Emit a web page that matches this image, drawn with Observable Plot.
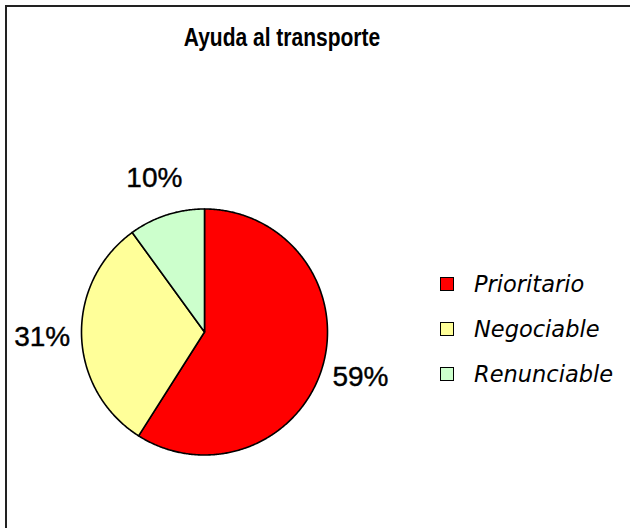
<!DOCTYPE html>
<html>
<head>
<meta charset="utf-8">
<script src="https://cdn.jsdelivr.net/npm/d3@7"></script>
<script src="https://cdn.jsdelivr.net/npm/@observablehq/plot@0.6"></script>
<style>
  html, body { margin: 0; padding: 0; background: #fff; overflow: hidden; }
  #wrap { position: relative; width: 630px; height: 528px; overflow: hidden; background: #fff; }
  #frame { position: absolute; left: 5px; top: 5px; width: 700px; height: 700px; border: 2px solid #222; box-sizing: border-box; }
  #chart { position: absolute; left: 0; top: 0; }
  #title { position: absolute; left: 0; width: 564px; top: 24px; text-align: center; font: bold 25px "Liberation Sans", sans-serif; line-height: 26px; color: #000; transform: scaleX(0.84); transform-origin: 282px 0; }
  #legend { position: absolute; left: 440px; top: 271px; }
  .item { position: relative; height: 45px; }
  .sw { position: absolute; left: 0; top: 6px; width: 14px; height: 14px; border: 1.5px solid #000; box-sizing: border-box; }
  .lab { position: absolute; left: 34px; top: 0; font: italic 22.5px "DejaVu Sans", sans-serif; line-height: 26px; color: #000; white-space: nowrap; }
</style>
</head>
<body>
<div id="wrap">
  <div id="frame"></div>
  <div id="chart"></div>
  <div id="title"></div>
  <div id="legend"></div>
</div>
<script>
const title = "Ayuda al transporte";
const categories = ["Prioritario", "Negociable", "Renunciable"];
const values = [59, 31, 10];
const labels = ["59%", "31%", "10%"];
const colors = ["#FF0000", "#FFFF99", "#CCFFCC"];

// Build slice outlines (unit circle) from the values, clockwise from 12 o'clock
const total = d3.sum(values);
const slicePts = [];
const labelPts = [];
let acc = 0;
values.forEach((v, i) => {
  const a0 = acc / total * 2 * Math.PI;
  const a1 = (acc + v) / total * 2 * Math.PI;
  acc += v;
  slicePts.push({cat: categories[i], x: 0, y: 0});
  const n = Math.max(2, Math.ceil((a1 - a0) / (Math.PI / 360)));
  for (let k = 0; k <= n; k++) {
    const a = a0 + (a1 - a0) * k / n;
    slicePts.push({cat: categories[i], x: Math.sin(a), y: Math.cos(a)});
  }
  const am = (a0 + a1) / 2;
  labelPts.push({label: labels[i], x: 1.32 * Math.sin(am), y: 1.32 * Math.cos(am)});
});

const R = 123, cx = 204, cy = 331.5, W = 630, H = 528;
const chart = Plot.plot({
  width: W,
  height: H,
  margin: 0,
  style: {background: "transparent", fontFamily: "Liberation Sans, sans-serif"},
  x: {domain: [-cx / R, (W - cx) / R], axis: null},
  y: {domain: [-(H - cy) / R, cy / R], axis: null},
  color: {domain: categories, range: colors},
  marks: [
    Plot.line(slicePts, {x: "x", y: "y", z: "cat", fill: "cat", stroke: "#000", strokeWidth: 1.6, curve: "linear-closed", strokeLinejoin: "round"}),
    Plot.text(labelPts, {x: "x", y: "y", text: "label", fontSize: 28, fill: "#000", stroke: "#000", strokeWidth: 0.4, fontFamily: "Liberation Sans, sans-serif"})
  ]
});
document.getElementById("chart").appendChild(chart);
document.getElementById("title").textContent = title;

const legend = document.getElementById("legend");
categories.forEach((c, i) => {
  const item = document.createElement("div");
  item.className = "item";
  const sw = document.createElement("div");
  sw.className = "sw";
  sw.style.background = colors[i];
  const lab = document.createElement("div");
  lab.className = "lab";
  lab.textContent = c;
  item.appendChild(sw);
  item.appendChild(lab);
  legend.appendChild(item);
});
</script>
</body>
</html>
